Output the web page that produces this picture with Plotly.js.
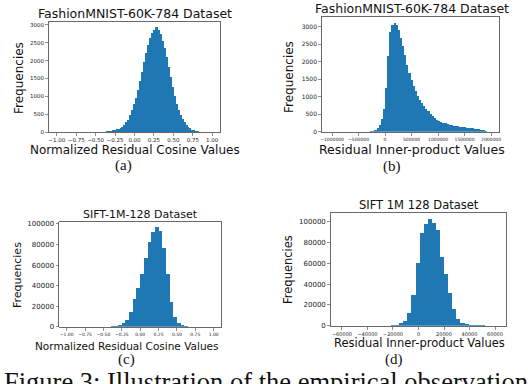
<!DOCTYPE html>
<html><head><meta charset="utf-8">
<script src="https://cdn.plot.ly/plotly-3.0.1.min.js"></script>
<style>html,body{margin:0;padding:0;background:#fff}#chart{width:528px;height:384px}</style>
</head><body><div id="chart"></div>
<script>
// ---- data ----
const cosFashionStart = -0.43, cosFashionWidth = 0.025;
const cosFashionCounts = [5,8,12,18,25,35,45,60,75,95,120,150,200,270,350,470,620,780,960,1170,1420,1680,1950,2200,2430,2640,2780,2870,2930,2950,2870,2740,2560,2340,2100,1820,1540,1250,1000,790,610,470,360,270,200,145,100,70,48,32,20,12,6,3];

const ipFashionStart = -260000, ipFashionWidth = 40000;
const ipFashionCounts = [10,30,60,110,200,360,650,1250,2150,2850,3060,3120,3060,2900,2680,2450,2180,1920,1680,1480,1300,1160,1030,920,830,740,660,580,500,440,380,340,310,285,260,240,220,205,190,175,165,155,145,135,125,118,110,100,92,85,78,70,62,50,30];

const cosSiftStart = -0.425, cosSiftWidth = 0.05;
const cosSiftCounts = [100,300,700,1500,3500,7000,14000,27000,38000,51000,67000,82000,92000,97500,93000,77000,51000,24000,9000,3200,1200,400,150];

const ipSiftStart = -23100, ipSiftWidth = 3200;
const ipSiftCounts = [150,400,900,2200,5000,12000,29500,60000,89000,98000,103000,99000,92000,66000,50000,31000,16500,6000,3000,1800,1000,600,350,200,100];

const cosTicks = [-1,-0.75,-0.5,-0.25,0,0.25,0.5,0.75,1];
const ipFashionTicks = [-1000000,-500000,0,500000,1000000,1500000,2000000];
const ipSiftTicks = [-60000,-40000,-20000,0,20000,40000,60000];
const fashionYTicks = [0,500,1000,1500,2000,2500,3000];
const siftYTicks = [0,20000,40000,60000,80000,100000];

const panelTitles = ["FashionMNIST-60K-784 Dataset","FashionMNIST-60K-784 Dataset","SIFT-1M-128 Dataset","SIFT 1M 128 Dataset"];
const xTitles = ["Normalized Residual Cosine Values","Residual Inner-product Values","Normalized Residual Cosine Values","Residual Inner-product Values"];
const yTitle = "Frequencies";
const subCaptions = ["(a)","(b)","(c)","(d)"];
const figureCaption = "Figure 3: Illustration of the empirical observation";

// ---- layout helpers ----
const W = 528, H = 384;
const px = p => p / W;
const py = p => 1 - p / H;
const blue = '#1f77b4';
const sans = 'DejaVu Sans, sans-serif';
const serif = 'Liberation Serif, Times New Roman, serif';

function bar(counts, start, width, xa, ya) {
  return {type:'bar', y:counts, x0:start, dx:width, xaxis:xa, yaxis:ya,
    marker:{color:blue, line:{width:0}}, hoverinfo:'skip', showlegend:false};
}
const traces = [
  bar(cosFashionCounts, cosFashionStart, cosFashionWidth, 'x', 'y'),
  bar(ipFashionCounts, ipFashionStart, ipFashionWidth, 'x2', 'y2'),
  bar(cosSiftCounts, cosSiftStart, cosSiftWidth, 'x3', 'y3'),
  bar(ipSiftCounts, ipSiftStart, ipSiftWidth, 'x4', 'y4')
];

function ax(domain, range, tickvals, fmt, fs, anchor) {
  return {domain:domain, range:range, anchor:anchor, tickmode:'array', tickvals:tickvals,
    tickformat:fmt, tickangle:0, tickfont:{family:sans, size:fs, color:'#222'},
    ticks:'outside', ticklen:3, tickwidth:0.6, tickcolor:'#444',
    showline:true, mirror:true, linecolor:'#444', linewidth:0.8,
    showgrid:false, zeroline:false, fixedrange:true};
}

const layout = {
  width:W, height:H, margin:{l:0,r:0,t:0,b:0}, paper_bgcolor:'#fff', plot_bgcolor:'#fff',
  bargap:0, showlegend:false,
  xaxis:  ax([px(49),px(220)], [-1.1,1.1], cosTicks, '.2f', 5.5, 'y'),
  yaxis:  ax([py(132),py(21.5)], [0,3095], fashionYTicks, 'd', 5.5, 'x'),
  xaxis2: ax([px(322),px(499)], [-1190000,2150000], ipFashionTicks, 'd', 4.5, 'y2'),
  yaxis2: ax([py(131.7),py(16.7)], [0,3286], fashionYTicks, 'd', 6, 'x2'),
  xaxis3: ax([px(59.3),px(221)], [-1.1,1.1], cosTicks, '.2f', 4.5, 'y3'),
  yaxis3: ax([py(326.7),py(221.7)], [0,102200], siftYTicks, 'd', 7, 'x3'),
  xaxis4: ax([px(331),px(506)], [-68600,68600], ipSiftTicks, 'd', 5, 'y4'),
  yaxis4: ax([py(325.7),py(213.2)], [0,108150], siftYTicks, 'd', 7, 'x4'),
  annotations: []
};

function note(text, x, y, size, family, angle) {
  layout.annotations.push({text:text, x:px(x), y:py(y), xref:'paper', yref:'paper',
    xanchor:'center', yanchor:'middle', showarrow:false, textangle:angle||0,
    font:{family:family, size:size, color:'#111'}});
}
// panel titles
note(panelTitles[0], 135, 13.5, 12.5, sans);
note(panelTitles[1], 411.5, 8.5, 12.5, sans);
note(panelTitles[2], 140, 214.5, 11, sans);
note(panelTitles[3], 419, 205, 11.5, sans);
// x titles
note(xTitles[0], 135, 150, 12, sans);
note(xTitles[1], 411.5, 149.5, 12.5, sans);
note(xTitles[2], 126, 345.5, 10.5, sans);
note(xTitles[3], 419, 343, 11.5, sans);
// y titles
note(yTitle, 19, 78, 12, sans, -90);
note(yTitle, 289, 77, 12, sans, -90);
note(yTitle, 17, 275, 11, sans, -90);
note(yTitle, 288, 270, 11.5, sans, -90);
// sub captions
note(subCaptions[0], 123, 165.5, 15, serif);
note(subCaptions[1], 392, 166, 15, serif);
note(subCaptions[2], 126, 359, 15, serif);
note(subCaptions[3], 394, 359, 15, serif);
// figure caption (clipped at the bottom, as in the reference)
layout.annotations.push({text:figureCaption, x:px(2), y:py(382), xref:'paper', yref:'paper',
  xanchor:'left', yanchor:'middle', showarrow:false,
  font:{family:serif, size:26.5, color:'#111'}});

Plotly.newPlot('chart', traces, layout, {staticPlot:true, displayModeBar:false});
</script>
</body></html>
